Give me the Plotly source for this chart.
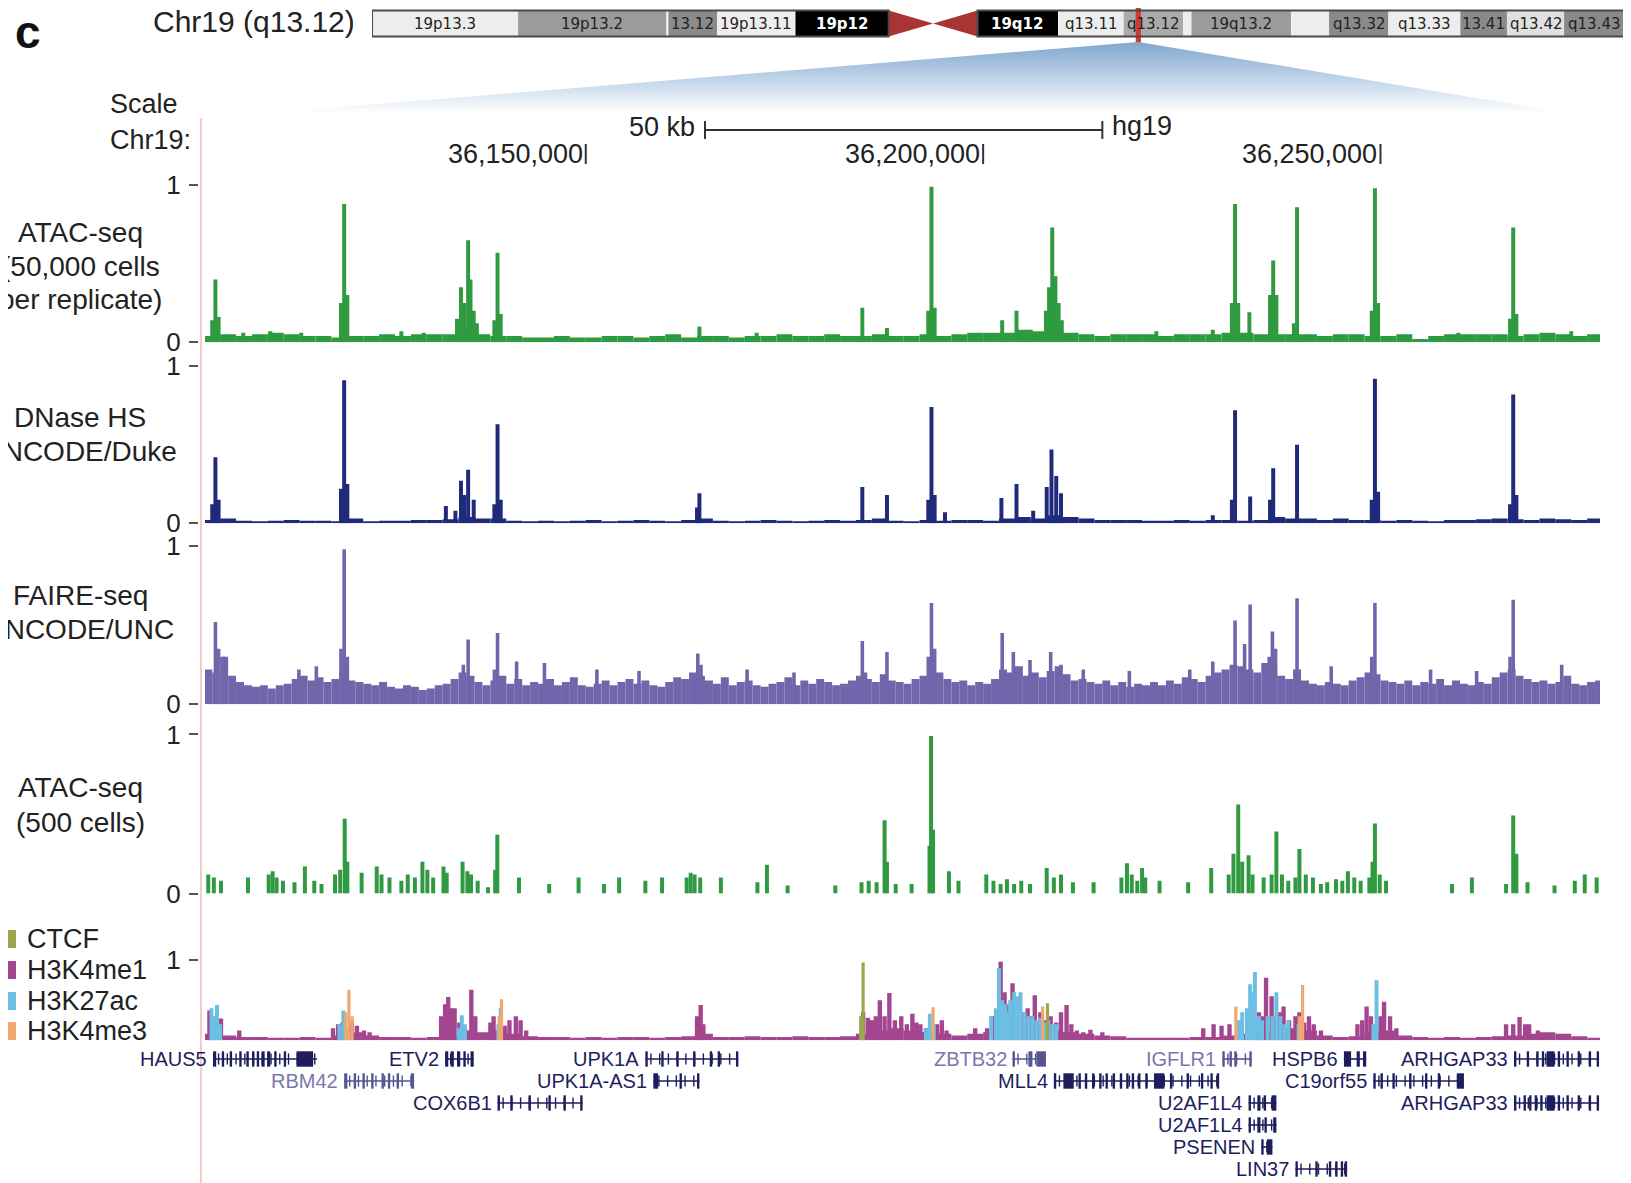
import plotly.graph_objects as go

W, H = 1631, 1183
PAGE_OFFSET = 8  # browser body margin
FONT = "Liberation Sans, Arial, Helvetica, sans-serif"
TEXT = "#222222"

# ---------------- data ----------------
CHROM_LABEL = "Chr19 (q13.12)"
PANEL_LETTER = "c"
OFFSET_BP = 36000000
VIEW_START = 36102090
VIEW_END = 36277620
POSITION_TICKS = [36150000, 36200000, 36250000]
POSITION_LABELS = ["36,150,000", "36,200,000", "36,250,000"]
SCALE_BAR = [36165000, 36215000]
SCALE_TEXT = "50 kb"
ASSEMBLY = "hg19"

# chr19 ideogram (Mb)
BAND_START = [0.0, 6.9, 13.9, 14.0, 16.3, 20.0, 24.4, 26.5, 28.6, 32.4, 35.5, 38.3, 38.7, 43.4, 45.2, 48.0, 51.4, 53.6, 56.3]
BAND_END = [6.9, 13.9, 14.0, 16.3, 20.0, 24.4, 26.5, 28.6, 32.4, 35.5, 38.3, 38.7, 43.4, 45.2, 48.0, 51.4, 53.6, 56.3, 59.128]
BAND_STAIN = ["gneg", "gpos50", "gneg", "gpos75", "gneg", "gvar", "acen", "acen", "gvar", "gneg",
              "gpos25", "gneg", "gpos50", "gneg", "gpos75", "gneg", "gpos75", "gneg2", "gpos75"]
BAND_LABELS = ["19p13.3", "19p13.2", "", "13.12", "19p13.11", "19p12", "", "", "19q12", "q13.11",
               "q13.12", "", "19q13.2", "", "q13.32", "q13.33", "13.41", "q13.42", "q13.43"]

# track labels
TRACK_LABELS = [["ATAC-seq", "(50,000 cells", "per replicate)"],
                ["DNase HS", "ENCODE/Duke"],
                ["FAIRE-seq", "ENCODE/UNC"],
                ["ATAC-seq", "(500 cells)"]]

# ATAC-seq 50k background (2 kb bins from 102 kb)
ATAC50_BG = [0.04, 0.05, 0.04, 0.05, 0.06, 0.05, 0.04, 0.04, 0.03, 0.04,
             0.04, 0.05, 0.04, 0.05, 0.05, 0.05, 0.10, 0.05, 0.04, 0.04,
             0.03, 0.03, 0.04, 0.03, 0.03, 0.04, 0.04, 0.03, 0.04, 0.05,
             0.03, 0.04, 0.04, 0.03, 0.04, 0.04, 0.05, 0.04, 0.04, 0.05,
             0.04, 0.04, 0.05, 0.04, 0.04, 0.05, 0.04, 0.05, 0.06, 0.06,
             0.06, 0.08, 0.07, 0.12, 0.06, 0.05, 0.04, 0.05, 0.05, 0.05,
             0.04, 0.05, 0.05, 0.05, 0.06, 0.06, 0.05, 0.05, 0.05, 0.05,
             0.04, 0.05, 0.05, 0.04, 0.04, 0.05, 0.02, 0.04, 0.05, 0.05,
             0.05, 0.05, 0.04, 0.05, 0.06, 0.05, 0.04, 0.05]
ATAC50_PEAKS = [(103.4, 0.40), (103.0, 0.14), (103.8, 0.16), (110.3, 0.07), (106.9, 0.06), (114.2, 0.06),
                (119.6, 0.88), (119.2, 0.25), (120.0, 0.30), (126.8, 0.07), (129.6, 0.06),
                (133.8, 0.15), (134.3, 0.35), (134.7, 0.25), (135.2, 0.65), (135.5, 0.40), (135.9, 0.20), (136.3, 0.12),
                (138.9, 0.57), (138.5, 0.14), (139.3, 0.18), (164.3, 0.10), (171.5, 0.06), (184.8, 0.22), (187.9, 0.09),
                (193.5, 0.99), (193.1, 0.20), (193.9, 0.22), (202.4, 0.14), (204.2, 0.20), (206.0, 0.08),
                (207.9, 0.20), (208.3, 0.35), (208.7, 0.73), (209.1, 0.42), (209.5, 0.25), (209.9, 0.14),
                (221.8, 0.07), (228.9, 0.08), (231.3, 0.25), (231.7, 0.88), (232.1, 0.25), (233.5, 0.19),
                (236.1, 0.30), (236.5, 0.52), (236.9, 0.30), (239.5, 0.86), (239.1, 0.12),
                (249.3, 0.98), (248.9, 0.20), (249.7, 0.25), (259.8, 0.06), (266.7, 0.73), (266.3, 0.15),
                (267.1, 0.18), (274.0, 0.07)]

# DNase HS background (2 kb bins)
DNASE_BG = [0.02, 0.03, 0.015, 0.01, 0.015, 0.02, 0.015, 0.015, 0.01, 0.03,
            0.01, 0.015, 0.015, 0.02, 0.02, 0.025, 0.04, 0.03, 0.03, 0.015,
            0.01, 0.015, 0.01, 0.015, 0.02, 0.01, 0.015, 0.02, 0.015, 0.01,
            0.02, 0.03, 0.015, 0.01, 0.015, 0.02, 0.015, 0.01, 0.015, 0.02,
            0.015, 0.02, 0.03, 0.015, 0.01, 0.02, 0.015, 0.02, 0.02, 0.015,
            0.03, 0.04, 0.03, 0.05, 0.04, 0.03, 0.02, 0.02, 0.02, 0.015,
            0.015, 0.02, 0.015, 0.02, 0.02, 0.015, 0.02, 0.04, 0.03, 0.03,
            0.02, 0.03, 0.02, 0.02, 0.015, 0.02, 0.015, 0.01, 0.02, 0.02,
            0.025, 0.03, 0.025, 0.02, 0.03, 0.025, 0.02, 0.03]
DNASE_PEAKS = [(103.4, 0.42), (103.0, 0.12), (103.8, 0.15), (119.6, 0.91), (119.2, 0.22), (120.0, 0.25),
               (132.4, 0.11), (133.6, 0.08), (134.3, 0.27), (134.7, 0.18), (135.2, 0.34), (135.9, 0.15),
               (138.9, 0.63), (138.5, 0.12), (139.3, 0.15), (164.0, 0.10), (164.3, 0.19),
               (184.8, 0.23), (187.9, 0.18), (193.5, 0.74), (193.1, 0.15), (193.9, 0.18), (195.2, 0.07),
               (202.3, 0.16), (204.2, 0.25), (206.3, 0.08), (208.0, 0.23), (208.6, 0.47), (209.2, 0.30), (209.8, 0.19),
               (228.9, 0.05), (231.7, 0.72), (231.3, 0.15), (233.6, 0.17), (236.1, 0.15), (236.5, 0.35),
               (239.5, 0.50), (249.3, 0.92), (248.9, 0.15), (249.7, 0.20), (266.7, 0.82), (266.3, 0.12), (267.1, 0.18)]

# FAIRE-seq background (1 kb bins from 102 kb)
FAIRE_BG = [0.22, 0.20, 0.30, 0.18, 0.14, 0.12, 0.11, 0.12, 0.10, 0.12,
            0.13, 0.16, 0.18, 0.15, 0.17, 0.14, 0.16, 0.20, 0.15, 0.14,
            0.13, 0.12, 0.14, 0.11, 0.10, 0.12, 0.11, 0.09, 0.10, 0.12,
            0.13, 0.16, 0.20, 0.18, 0.14, 0.12, 0.15, 0.18, 0.13, 0.16,
            0.12, 0.14, 0.13, 0.16, 0.12, 0.14, 0.17, 0.12, 0.11, 0.13,
            0.15, 0.12, 0.14, 0.16, 0.13, 0.15, 0.12, 0.11, 0.14, 0.17,
            0.16, 0.20, 0.18, 0.15, 0.13, 0.17, 0.12, 0.14, 0.15, 0.12,
            0.11, 0.13, 0.14, 0.17, 0.12, 0.15, 0.13, 0.16, 0.14, 0.12,
            0.13, 0.15, 0.18, 0.16, 0.14, 0.19, 0.15, 0.14, 0.13, 0.16,
            0.18, 0.22, 0.20, 0.16, 0.14, 0.15, 0.12, 0.14, 0.13, 0.16,
            0.22, 0.20, 0.24, 0.18, 0.20, 0.17, 0.21, 0.24, 0.19, 0.15,
            0.16, 0.14, 0.13, 0.15, 0.12, 0.14, 0.11, 0.13, 0.12, 0.14,
            0.12, 0.15, 0.13, 0.17, 0.16, 0.14, 0.18, 0.20, 0.22, 0.25,
            0.24, 0.22, 0.20, 0.26, 0.22, 0.18, 0.16, 0.22, 0.15, 0.13,
            0.12, 0.14, 0.13, 0.12, 0.15, 0.17, 0.20, 0.19, 0.15, 0.14,
            0.13, 0.15, 0.12, 0.14, 0.13, 0.16, 0.12, 0.15, 0.13, 0.12,
            0.14, 0.13, 0.17, 0.20, 0.22, 0.18, 0.16, 0.14, 0.15, 0.13,
            0.14, 0.18, 0.13, 0.12, 0.14, 0.15]
FAIRE_PEAKS = [(103.4, 0.52), (103.8, 0.35), (104.4, 0.30), (119.6, 0.98), (119.2, 0.35), (120.0, 0.30),
               (113.9, 0.22), (116.1, 0.24), (135.2, 0.41), (134.6, 0.25), (138.9, 0.45), (138.5, 0.22),
               (141.3, 0.27), (144.8, 0.26), (151.4, 0.22), (156.7, 0.21), (164.1, 0.32), (164.5, 0.25),
               (170.3, 0.22), (176.2, 0.20), (184.8, 0.40), (185.2, 0.20), (187.9, 0.33), (193.5, 0.64),
               (193.1, 0.30), (193.9, 0.35), (202.4, 0.45), (203.8, 0.33), (205.9, 0.28), (208.5, 0.33),
               (209.8, 0.25), (212.6, 0.22), (218.4, 0.21), (226.0, 0.22), (228.9, 0.27), (231.7, 0.53),
               (232.9, 0.38), (233.6, 0.63), (236.0, 0.30), (236.4, 0.46), (236.8, 0.35), (239.5, 0.67),
               (243.8, 0.24), (249.3, 0.64), (248.9, 0.30), (256.3, 0.22), (262.1, 0.21), (266.7, 0.66),
               (266.3, 0.30), (272.8, 0.25)]

# ATAC-seq 500 cells (sparse)
ATAC500_BARS = [(102.5, 0.12), (103.2, 0.10), (104.1, 0.08), (107.5, 0.10), (110.1, 0.12), (110.6, 0.14),
                (111.1, 0.10), (111.9, 0.08), (113.35, 0.07), (114.66, 0.17), (115.84, 0.08), (116.75, 0.06),
                (118.45, 0.12), (119.1, 0.15), (119.67, 0.47), (120.0, 0.20), (121.8, 0.13), (123.7, 0.17),
                (124.3, 0.12), (125.3, 0.10), (126.8, 0.08), (127.6, 0.12), (128.5, 0.10), (129.45, 0.20),
                (130.07, 0.15), (130.8, 0.10), (132.1, 0.17), (132.5, 0.13), (134.5, 0.20), (135.1, 0.14),
                (135.56, 0.12), (136.4, 0.08), (137.7, 0.04), (138.6, 0.15), (138.87, 0.37), (141.6, 0.10),
                (145.4, 0.06), (149.1, 0.10), (152.3, 0.06), (154.2, 0.10), (157.5, 0.08), (159.6, 0.10),
                (162.7, 0.10), (163.2, 0.13), (163.7, 0.12), (164.4, 0.10), (167.0, 0.10), (171.6, 0.07),
                (172.8, 0.18), (175.4, 0.05), (181.4, 0.05), (184.7, 0.07), (185.6, 0.08), (186.6, 0.07),
                (187.6, 0.46), (187.9, 0.20), (189.0, 0.06), (191.0, 0.06), (193.25, 0.30), (193.45, 0.99),
                (193.7, 0.40), (195.7, 0.14), (196.9, 0.08), (200.4, 0.12), (201.3, 0.08), (202.2, 0.06),
                (203.0, 0.09), (203.9, 0.06), (204.8, 0.08), (205.9, 0.06), (208.0, 0.16), (208.9, 0.10),
                (209.8, 0.12), (211.3, 0.07), (213.9, 0.07), (217.4, 0.10), (218.1, 0.19), (218.7, 0.12),
                (219.4, 0.08), (220.0, 0.16), (220.4, 0.10), (222.2, 0.08), (225.8, 0.07), (228.7, 0.16),
                (230.9, 0.12), (231.5, 0.25), (232.1, 0.56), (232.6, 0.20), (233.4, 0.24), (233.9, 0.12),
                (235.3, 0.10), (236.3, 0.12), (236.9, 0.39), (237.6, 0.12), (238.4, 0.08), (239.3, 0.10),
                (239.8, 0.28), (240.6, 0.12), (241.5, 0.10), (242.5, 0.06), (243.3, 0.07), (244.4, 0.09),
                (245.2, 0.08), (245.9, 0.14), (246.7, 0.10), (247.5, 0.08), (248.6, 0.10), (249.0, 0.20),
                (249.3, 0.44), (249.9, 0.12), (250.7, 0.08), (259.0, 0.06), (261.5, 0.10), (265.8, 0.06),
                (266.7, 0.49), (267.1, 0.25), (268.5, 0.07), (271.9, 0.05), (274.45, 0.08), (275.7, 0.12),
                (277.2, 0.10)]

# histone / CTCF overlay
HISTONE_NAMES = ["CTCF", "H3K4me1", "H3K27ac", "H3K4me3"]
H3K4ME1_BG = [0.08, 0.06, 0.04, 0.04, 0.03, 0.03, 0.04, 0.03, 0.06, 0.10,
              0.06, 0.04, 0.04, 0.03, 0.04, 0.05, 0.12, 0.10, 0.12, 0.08,
              0.05, 0.04, 0.04, 0.03, 0.04, 0.03, 0.04, 0.04, 0.03, 0.04,
              0.05, 0.08, 0.04, 0.04, 0.05, 0.04, 0.04, 0.05, 0.04, 0.04,
              0.05, 0.08, 0.12, 0.15, 0.12, 0.10, 0.08, 0.06, 0.08, 0.10,
              0.15, 0.18, 0.15, 0.12, 0.10, 0.08, 0.06, 0.05, 0.03, 0.03,
              0.03, 0.03, 0.04, 0.04, 0.06, 0.08, 0.10, 0.12, 0.15, 0.12,
              0.06, 0.04, 0.05, 0.10, 0.12, 0.06, 0.04, 0.03, 0.04, 0.03,
              0.04, 0.05, 0.06, 0.08, 0.10, 0.08, 0.05, 0.03]
H3K4ME1_PEAKS = [(102.65, 0.37), (103.1, 0.25), (104.1, 0.27), (106.4, 0.12), (118.2, 0.15), (118.85, 0.20),
                 (119.4, 0.22), (120.55, 0.23), (121.2, 0.18), (122.1, 0.12), (122.8, 0.10), (131.8, 0.30),
                 (132.3, 0.45), (132.7, 0.54), (133.1, 0.40), (133.5, 0.40), (134.1, 0.22), (134.8, 0.15),
                 (135.6, 0.63), (136.1, 0.30), (138.0, 0.22), (138.4, 0.30), (139.8, 0.18), (140.4, 0.25),
                 (141.2, 0.30), (141.8, 0.25), (142.5, 0.12), (164.0, 0.30), (164.46, 0.44), (164.8, 0.20),
                 (184.9, 0.35), (185.5, 0.28), (186.0, 0.25), (186.5, 0.30), (187.0, 0.50), (187.6, 0.30),
                 (188.2, 0.59), (188.9, 0.25), (189.7, 0.30), (190.4, 0.20), (191.1, 0.33), (191.6, 0.22),
                 (192.1, 0.20), (192.8, 0.15), (194.2, 0.20), (194.8, 0.25), (195.4, 0.12), (199.0, 0.15),
                 (200.5, 0.15), (201.3, 0.30), (202.2, 0.98), (202.7, 0.60), (203.2, 0.45), (203.7, 0.71),
                 (204.1, 0.40), (204.6, 0.45), (205.1, 0.35), (205.6, 0.40), (206.0, 0.30), (206.5, 0.56),
                 (207.2, 0.35), (207.8, 0.25), (208.5, 0.30), (209.2, 0.22), (209.8, 0.35), (210.5, 0.44),
                 (211.1, 0.20), (211.8, 0.12), (212.6, 0.10), (213.5, 0.13), (215.0, 0.10), (227.7, 0.15),
                 (229.0, 0.20), (230.0, 0.18), (231.0, 0.20), (234.7, 0.35), (235.2, 0.30), (235.6, 0.78),
                 (236.3, 0.55), (236.8, 0.30), (237.3, 0.35), (237.8, 0.42), (238.5, 0.25), (239.3, 0.30),
                 (239.8, 0.35), (240.4, 0.22), (241.0, 0.30), (241.6, 0.20), (242.5, 0.12), (247.1, 0.20),
                 (247.7, 0.25), (248.25, 0.42), (248.8, 0.30), (250.0, 0.30), (250.45, 0.48), (251.2, 0.30),
                 (252.0, 0.15), (265.8, 0.20), (266.7, 0.20), (267.5, 0.29), (268.2, 0.20), (268.7, 0.20),
                 (269.8, 0.12)]
H3K27AC_PEAKS = [(102.9, 0.40), (103.3, 0.30), (103.6, 0.44), (104.0, 0.20), (119.0, 0.20), (119.5, 0.37),
                 (120.0, 0.15), (134.0, 0.15), (134.4, 0.31), (134.8, 0.20), (139.0, 0.20), (139.3, 0.40),
                 (192.8, 0.15), (193.3, 0.33), (193.8, 0.20), (201.0, 0.30), (201.6, 0.40), (202.0, 0.90),
                 (202.4, 0.50), (202.8, 0.45), (203.0, 0.35), (203.4, 0.50), (203.9, 0.60), (204.3, 0.55),
                 (204.7, 0.60), (205.2, 0.35), (205.7, 0.30), (206.2, 0.30), (206.7, 0.25), (207.2, 0.28),
                 (207.7, 0.22), (208.2, 0.25), (208.7, 0.20), (209.2, 0.20), (232.2, 0.25), (232.6, 0.35),
                 (233.2, 0.40), (233.6, 0.70), (233.9, 0.60), (234.2, 0.85), (234.7, 0.30), (235.1, 0.25),
                 (235.8, 0.30), (236.4, 0.30), (236.9, 0.60), (237.4, 0.30), (237.9, 0.20), (238.4, 0.25),
                 (239.7, 0.20), (249.1, 0.20), (249.5, 0.75)]
H3K4ME3_PEAKS = [(119.8, 0.35), (120.2, 0.63), (120.6, 0.30), (139.1, 0.30), (139.4, 0.51), (193.7, 0.41),
                 (207.5, 0.42), (231.8, 0.42), (239.8, 0.30), (240.2, 0.69)]
CTCF_PEAKS = [(184.6, 0.30), (184.9, 0.97), (208.1, 0.46)]

# genes (kb offsets from 36,000,000)
GENE_NAMES = ["HAUS5", "RBM42", "ETV2", "COX6B1", "UPK1A", "UPK1A-AS1", "ZBTB32", "MLL4", "IGFLR1",
              "U2AF1L4", "U2AF1L4", "PSENEN", "LIN37", "HSPB6", "C19orf55", "ARHGAP33", "ARHGAP33"]
GENE_ROW = [1, 2, 1, 3, 1, 2, 1, 2, 1, 3, 4, 5, 6, 1, 2, 1, 3]
GENE_START_KB = [103.1, 119.6, 132.3, 138.9, 157.5, 158.5, 203.7, 208.9, 230.1, 233.4, 233.4, 235.0,
                 239.3, 245.4, 249.1, 266.8, 266.8]
GENE_END_KB = [116.2, 128.4, 135.9, 149.6, 169.2, 164.3, 207.9, 229.7, 233.8, 236.9, 236.9, 236.4,
               245.8, 248.2, 260.5, 277.5, 277.5]
GENE_DIM = [False, True, False, False, False, False, True, False, True, False, False, False,
            False, False, False, False, False]
GENE_EXONS = [
    [(103.1, 103.5), (104.2, 104.5), (105.2, 105.5), (106.4, 106.7), (107.3, 107.6), (108.0, 108.3),
     (108.6, 108.9), (109.2, 109.6), (109.9, 110.3), (110.8, 111.1), (112.0, 112.3), (113.6, 115.7)],
    [(119.6, 120.0), (120.8, 121.1), (121.9, 122.2), (123.0, 123.3), (124.3, 124.6), (125.1, 125.4),
     (126.2, 126.5), (128.0, 128.4)],
    [(132.3, 132.7), (133.0, 133.4), (133.8, 134.2), (134.6, 134.9), (135.5, 135.9)],
    [(138.9, 139.2), (140.5, 140.8), (142.8, 143.1), (145.3, 145.6), (147.2, 147.5), (149.3, 149.6)],
    [(157.5, 157.8), (159.5, 159.8), (161.4, 161.7), (163.5, 163.8), (165.6, 165.9), (166.6, 166.9),
     (168.9, 169.2)],
    [(158.5, 159.1), (161.8, 162.1), (164.0, 164.3)],
    [(203.7, 204.0), (205.7, 206.2), (206.7, 207.9)],
    [(208.9, 209.2), (210.1, 211.4), (212.0, 212.3), (212.8, 213.1), (213.7, 214.0), (214.6, 214.9),
     (215.4, 215.7), (216.3, 216.6), (217.2, 217.5), (218.0, 218.3), (218.7, 219.0), (219.5, 219.8),
     (220.4, 220.7), (221.5, 222.8), (223.5, 223.8), (225.6, 225.9), (227.4, 227.7), (228.6, 228.9),
     (229.4, 229.7)],
    [(230.1, 230.4), (231.0, 231.3), (231.6, 231.9), (233.5, 233.8)],
    [(233.4, 233.7), (234.5, 234.9), (235.3, 235.6), (236.3, 236.9)],
    [(233.4, 233.7), (234.5, 234.9), (235.4, 235.7), (236.5, 236.9)],
    [(235.0, 235.3), (235.7, 236.4)],
    [(239.3, 239.6), (241.8, 242.1), (243.5, 243.8), (244.3, 244.6), (245.0, 245.3), (245.5, 245.8)],
    [(245.4, 246.3), (247.0, 247.4), (247.8, 248.2)],
    [(249.1, 249.4), (250.0, 250.3), (251.5, 251.8), (253.6, 253.9), (255.6, 255.9), (257.2, 257.5),
     (259.6, 260.5)],
    [(266.8, 267.1), (268.4, 268.7), (269.6, 269.9), (270.3, 270.6), (270.9, 271.9), (272.3, 272.6),
     (273.4, 273.7), (274.8, 275.1), (276.2, 276.5), (277.2, 277.5)],
    [(266.8, 267.1), (268.0, 268.3), (268.7, 269.0), (269.4, 269.7), (270.1, 270.4), (270.9, 271.9),
     (272.3, 272.6), (273.4, 273.7), (274.8, 275.1), (276.2, 276.5), (277.2, 277.5)],
]

# ---------------- style / layout ----------------
GREEN = "#2f9a40"
NAVY = "#1f2a7a"
LAVENDER = "#6f66ab"
HISTONE_COLORS = {"CTCF": "#9da64f", "H3K4me1": "#a4458f", "H3K27ac": "#6cbfe2", "H3K4me3": "#f1a870"}
STAIN_COLORS = {"gneg": "#ededed", "gneg2": "#e0e0e0", "gpos25": "#aaaaaa", "gpos50": "#9b9b9b",
                "gpos75": "#8a8a8a", "gvar": "#000000", "acen": "#a83434"}
GENE_COLOR = "#1e1e5e"
GENE_DIM_COLOR = "#7878ae"
GENE_DIM_BODY = "#55558f"

DATA_LEFT, DATA_RIGHT = 205, 1600
TRACK_PX = [(185.2, 342.2), (366.2, 523.2), (546.1, 704.2), (734.4, 893.5), (960.1, 1040.2)]
TRACK_LABEL_Y = [[233, 266, 300], [417, 451], [595, 629], [787, 822]]
GENE_PX = (1048, 1180)
IDEO_LEFT, IDEO_RIGHT = 372, 1624
IDEO_TOP, IDEO_BOTTOM = 10.5, 36.5
IDEO_AXIS_PX = (8, 43)


def clamp(v):
    return min(1.0, max(0.0, v))


def px(x):
    return (x - PAGE_OFFSET) / W


def py(y):
    return 1 - (y - PAGE_OFFSET) / H


def bp(kb):
    return OFFSET_BP + kb * 1000


fig = go.Figure()


def add_bars(kbs, hs, width_kb, color, yax):
    fig.add_trace(go.Bar(x=[bp(k) for k in kbs], y=hs, width=width_kb * 1000, base=0,
                         marker=dict(color=color, line=dict(width=0)), xaxis="x", yaxis=yax,
                         hoverinfo="skip", showlegend=False))


def bg_centers(values, start_kb, step_kb):
    return [start_kb + step_kb * i + step_kb / 2 for i in range(len(values))]


# tracks 1-4
add_bars(bg_centers(ATAC50_BG, 102, 2), ATAC50_BG, 2, GREEN, "y")
add_bars([p[0] for p in ATAC50_PEAKS], [p[1] for p in ATAC50_PEAKS], 0.5, GREEN, "y")
add_bars(bg_centers(DNASE_BG, 102, 2), DNASE_BG, 2, NAVY, "y2")
add_bars([p[0] for p in DNASE_PEAKS], [p[1] for p in DNASE_PEAKS], 0.5, NAVY, "y2")
add_bars(bg_centers(FAIRE_BG, 102, 1), FAIRE_BG, 1, LAVENDER, "y3")
add_bars([p[0] for p in FAIRE_PEAKS], [p[1] for p in FAIRE_PEAKS], 0.45, LAVENDER, "y3")
add_bars([p[0] for p in ATAC500_BARS], [p[1] for p in ATAC500_BARS], 0.5, GREEN, "y4")
# histone overlay
add_bars(bg_centers(H3K4ME1_BG, 102, 2), H3K4ME1_BG, 2, HISTONE_COLORS["H3K4me1"], "y5")
add_bars([p[0] for p in H3K4ME1_PEAKS], [p[1] for p in H3K4ME1_PEAKS], 0.55, HISTONE_COLORS["H3K4me1"], "y5")
add_bars([p[0] for p in H3K27AC_PEAKS], [p[1] for p in H3K27AC_PEAKS], 0.5, HISTONE_COLORS["H3K27ac"], "y5")
add_bars([p[0] for p in H3K4ME3_PEAKS], [p[1] for p in H3K4ME3_PEAKS], 0.4, HISTONE_COLORS["H3K4me3"], "y5")
add_bars([p[0] for p in CTCF_PEAKS], [p[1] for p in CTCF_PEAKS], 0.4, HISTONE_COLORS["CTCF"], "y5")

# genes
annotations = []
for i, name in enumerate(GENE_NAMES):
    row = GENE_ROW[i]
    body = GENE_DIM_BODY if GENE_DIM[i] else GENE_COLOR
    lab = GENE_DIM_COLOR if GENE_DIM[i] else GENE_COLOR
    s, e = GENE_START_KB[i], GENE_END_KB[i]
    fig.add_trace(go.Scatter(x=[bp(s), bp(e)], y=[row, row], mode="lines",
                             line=dict(color=body, width=1.6), xaxis="x", yaxis="y6",
                             hoverinfo="skip", showlegend=False))
    marks = []
    k = s + 0.7
    while k < e - 0.3:
        marks.append(bp(k))
        k += 1.1
    fig.add_trace(go.Scatter(x=marks, y=[row] * len(marks), mode="markers",
                             marker=dict(symbol="line-ns", size=8, line=dict(color=body, width=1.4)),
                             xaxis="x", yaxis="y6", hoverinfo="skip", showlegend=False))
    ex = GENE_EXONS[i]
    fig.add_trace(go.Bar(x=[bp((a + b) / 2) for a, b in ex], y=[0.7] * len(ex),
                         width=[(b - a) * 1000 for a, b in ex], base=[row - 0.35] * len(ex),
                         marker=dict(color=body, line=dict(width=0)), xaxis="x", yaxis="y6",
                         hoverinfo="skip", showlegend=False))
    annotations.append(dict(x=bp(s), y=row, xref="x", yref="y6", text=name, showarrow=False,
                            xanchor="right", yanchor="middle", xshift=-4,
                            font=dict(family=FONT, size=20, color=lab)))

# ideogram bands
for i in range(len(BAND_START)):
    if BAND_STAIN[i] == "acen":
        continue
    s, e = BAND_START[i], BAND_END[i]
    fig.add_trace(go.Bar(x=[(s + e) / 2], y=[1], base=[0], width=[e - s],
                         marker=dict(color=STAIN_COLORS[BAND_STAIN[i]], line=dict(width=0)),
                         xaxis="x2", yaxis="y7", hoverinfo="skip", showlegend=False))
acen = [i for i, st in enumerate(BAND_STAIN) if st == "acen"]
cen_s, cen_m, cen_e = BAND_START[acen[0]], BAND_END[acen[0]], BAND_END[acen[-1]]
for xs in ([cen_s, cen_s, cen_m, cen_s], [cen_e, cen_e, cen_m, cen_e]):
    fig.add_trace(go.Scatter(x=xs, y=[0, 1, 0.5, 0], mode="lines", fill="toself",
                             fillcolor=STAIN_COLORS["acen"], line=dict(width=0, color=STAIN_COLORS["acen"]),
                             xaxis="x2", yaxis="y7", hoverinfo="skip", showlegend=False))
for i, lab in enumerate(BAND_LABELS):
    if not lab:
        continue
    dark = BAND_STAIN[i] == "gvar"
    annotations.append(dict(x=(BAND_START[i] + BAND_END[i]) / 2, y=0.5, xref="x2", yref="y7",
                            text=("<b>%s</b>" % lab) if dark else lab, showarrow=False,
                            font=dict(family="DejaVu Sans, sans-serif", size=15,
                                      color="white" if dark else "#222")))

# ideogram axis range so that 0..1 spans IDEO_BOTTOM..IDEO_TOP
unit = IDEO_BOTTOM - IDEO_TOP
y7_lo = -(IDEO_AXIS_PX[1] - IDEO_BOTTOM) / unit
y7_hi = 1 + (IDEO_TOP - IDEO_AXIS_PX[0]) / unit

# region marker
reg_s, reg_e = VIEW_START / 1e6, VIEW_END / 1e6
fig.add_trace(go.Bar(x=[(reg_s + reg_e) / 2], y=[y7_hi - y7_lo], base=[y7_lo], width=[reg_e - reg_s],
                     marker=dict(color="#d23a2e", line=dict(width=1.5, color="#d23a2e")),
                     xaxis="x2", yaxis="y7", hoverinfo="skip", showlegend=False))

# zoom wedge (decoration, in page-pixel space)
apex_x = IDEO_LEFT + (reg_s + reg_e) / 2 / BAND_END[-1] * (IDEO_RIGHT - IDEO_LEFT)
fig.add_trace(go.Scatter(x=[268, apex_x, 1566, 268], y=[113, 42, 113, 113], mode="lines", fill="toself",
                         line=dict(width=0, color="rgba(0,0,0,0)"),
                         fillgradient=dict(type="vertical", start=42, stop=113,
                                           colorscale=[[0, "#7fa6cf"], [0.55, "#c4d7ea"], [1, "#ffffff"]]),
                         xaxis="x3", yaxis="y8", hoverinfo="skip", showlegend=False))

# ---------------- axes ----------------
layout = dict(width=W, height=H, margin=dict(l=0, r=0, t=0, b=0, pad=0, autoexpand=False), autosize=False,
              paper_bgcolor="white", plot_bgcolor="rgba(0,0,0,0)", barmode="overlay",
              showlegend=False, font=dict(family=FONT, color=TEXT))
layout["xaxis"] = dict(domain=[clamp(px(DATA_LEFT)), clamp(px(DATA_RIGHT))], range=[VIEW_START, VIEW_END],
                       visible=False, anchor="y", automargin=False)
for i, (top, bot) in enumerate(TRACK_PX):
    name = "yaxis" if i == 0 else "yaxis%d" % (i + 1)
    tv = [0, 1] if i < 4 else [1]
    layout[name] = dict(domain=[clamp(py(bot)), clamp(py(top))], range=[0, 1], anchor="free",
                        position=clamp(px(198)),
                        tickvals=tv, ticktext=[str(t) for t in tv], ticks="outside", ticklen=9,
                        tickwidth=2, tickcolor="#555", showgrid=False, zeroline=False, showline=False,
                        automargin=False, ticklabelstandoff=3,
                        tickfont=dict(family=FONT, size=26, color=TEXT))
layout["yaxis6"] = dict(domain=[clamp(py(GENE_PX[1])), clamp(py(GENE_PX[0]))], range=[6.5, 0.5],
                        visible=False, anchor="x", automargin=False)
layout["xaxis2"] = dict(domain=[clamp(px(IDEO_LEFT)), clamp(px(IDEO_RIGHT))], range=[0, BAND_END[-1]],
                        visible=False, anchor="y7", automargin=False)
layout["yaxis7"] = dict(domain=[clamp(py(IDEO_AXIS_PX[1])), clamp(py(IDEO_AXIS_PX[0]))], range=[y7_lo, y7_hi],
                        visible=False, anchor="x2", automargin=False)
layout["xaxis3"] = dict(domain=[0, 1], range=[PAGE_OFFSET, W + PAGE_OFFSET], visible=False, anchor="y8",
                        automargin=False)
layout["yaxis8"] = dict(domain=[0, 1], range=[H + PAGE_OFFSET, PAGE_OFFSET], visible=False, anchor="x3",
                        automargin=False)

shapes = []
for s, e in ((BAND_START[0], cen_s), (cen_e, BAND_END[-1])):
    shapes.append(dict(type="rect", xref="x2", yref="y7", x0=s, x1=e, y0=0, y1=1,
                       line=dict(color="#4a4a4a", width=2), fillcolor="rgba(0,0,0,0)", layer="above"))
shapes.append(dict(type="line", xref="paper", yref="paper", x0=px(201), x1=px(201), y0=py(118), y1=0,
                   line=dict(color="#f1cdc6", width=2)))
shapes.append(dict(type="line", xref="x", yref="paper", x0=SCALE_BAR[0], x1=SCALE_BAR[1],
                   y0=py(130), y1=py(130), line=dict(color="#333", width=2)))
for xb in SCALE_BAR:
    shapes.append(dict(type="line", xref="x", yref="paper", x0=xb, x1=xb, y0=py(121), y1=py(139),
                       line=dict(color="#333", width=2)))
for xt in POSITION_TICKS:
    shapes.append(dict(type="line", xref="x", yref="paper", x0=xt, x1=xt, y0=py(144), y1=py(164),
                       line=dict(color="#333", width=2)))
LEGEND_Y = [939, 970, 1001, 1031]
for name, yy in zip(HISTONE_NAMES, LEGEND_Y):
    shapes.append(dict(type="rect", xref="paper", yref="paper", x0=px(-2), x1=px(16), y0=py(yy + 9),
                       y1=py(yy - 9), fillcolor=HISTONE_COLORS[name], line=dict(width=0)))
    annotations.append(dict(x=px(25), y=py(yy), xref="paper", yref="paper", text=name, showarrow=False,
                            xanchor="left", yanchor="middle", font=dict(family=FONT, size=27, color=TEXT)))

annotations.append(dict(x=px(13), y=py(32), xref="paper", yref="paper", text="<b>%s</b>" % PANEL_LETTER,
                        showarrow=False, xanchor="left", yanchor="middle",
                        font=dict(family=FONT, size=46, color="#111")))
annotations.append(dict(x=px(151), y=py(22), xref="paper", yref="paper", text=CHROM_LABEL, showarrow=False,
                        xanchor="left", yanchor="middle", font=dict(family=FONT, size=30, color=TEXT)))
annotations.append(dict(x=px(108), y=py(104), xref="paper", yref="paper", text="Scale", showarrow=False,
                        xanchor="left", yanchor="middle", font=dict(family=FONT, size=27, color=TEXT)))
annotations.append(dict(x=px(108), y=py(140), xref="paper", yref="paper", text="Chr19:", showarrow=False,
                        xanchor="left", yanchor="middle", font=dict(family=FONT, size=27, color=TEXT)))
annotations.append(dict(x=SCALE_BAR[0], y=py(127), xref="x", yref="paper", text=SCALE_TEXT, showarrow=False,
                        xanchor="right", yanchor="middle", xshift=-8, font=dict(family=FONT, size=27, color=TEXT)))
annotations.append(dict(x=SCALE_BAR[1], y=py(126), xref="x", yref="paper", text=ASSEMBLY, showarrow=False,
                        xanchor="left", yanchor="middle", xshift=8, font=dict(family=FONT, size=27, color=TEXT)))
for xt, lab in zip(POSITION_TICKS, POSITION_LABELS):
    annotations.append(dict(x=xt, y=py(154), xref="x", yref="paper", text=lab, showarrow=False,
                            xanchor="right", yanchor="middle", xshift=-1,
                            font=dict(family=FONT, size=27, color=TEXT)))
for lines, ys in zip(TRACK_LABELS, TRACK_LABEL_Y):
    for t, yy in zip(lines, ys):
        annotations.append(dict(x=px(80), y=py(yy), xref="paper", yref="paper", text=t, showarrow=False,
                                xanchor="center", yanchor="middle",
                                font=dict(family=FONT, size=28, color=TEXT)))

layout["shapes"] = shapes
layout["annotations"] = annotations
fig.update_layout(**layout)
fig.write_html("out.html")
